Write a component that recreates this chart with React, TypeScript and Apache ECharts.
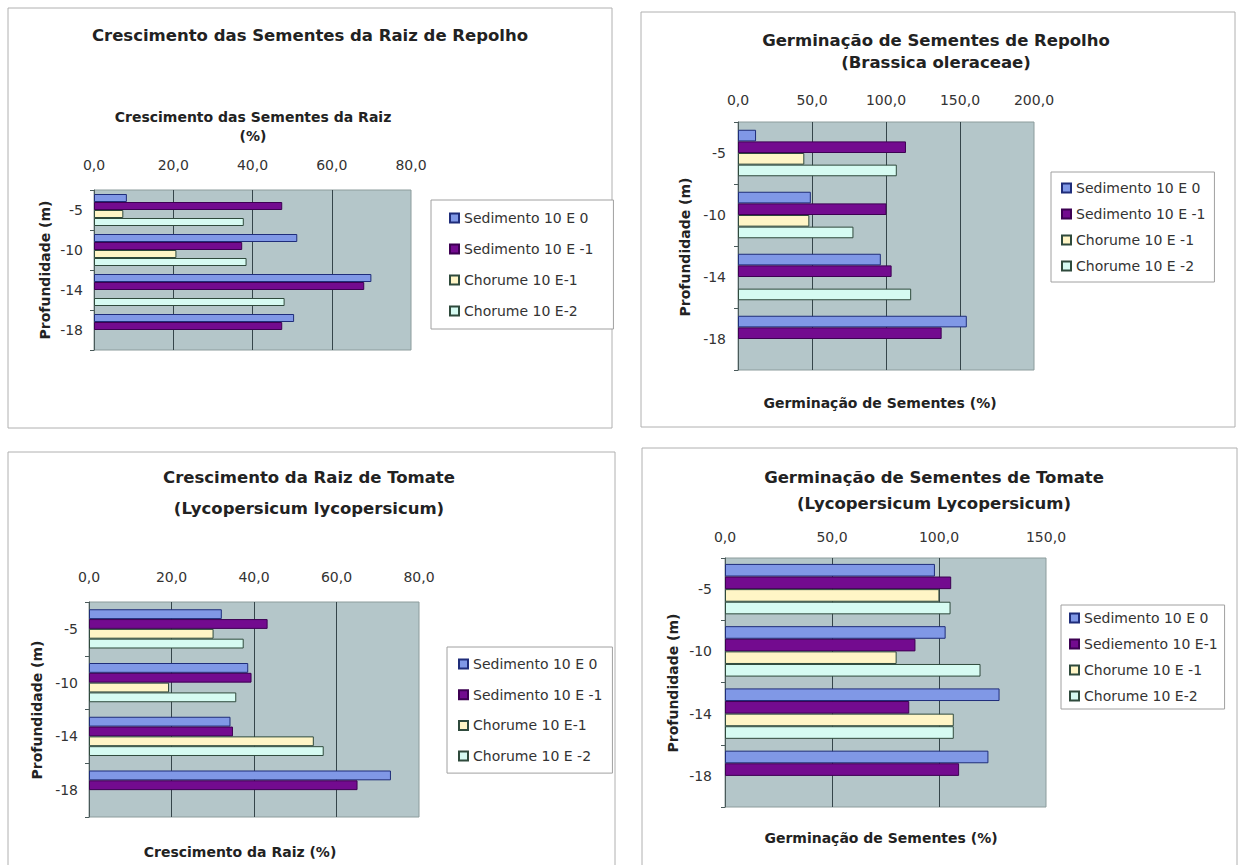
import React, { useEffect, useRef } from 'react';
import * as echarts from 'echarts';

// ---- data ----
const depths = ['-5', '-10', '-14', '-18'];

// Panel 1: Crescimento das Sementes da Raiz de Repolho
const p1Names = ['Sedimento 10 E 0', 'Sedimento 10 E -1', 'Chorume 10 E-1', 'Chorume 10 E-2'];
const p1Sed0 = [8.3, 51.3, 70.0, 50.5];
const p1Sed1 = [47.5, 37.4, 68.2, 47.5];
const p1Chor1 = [7.4, 20.8, null, null];
const p1Chor2 = [37.8, 38.5, 48.1, null];

// Panel 2: Germinação de Sementes de Repolho
const p2Names = ['Sedimento 10 E 0', 'Sedimento 10 E -1', 'Chorume 10 E -1', 'Chorume 10 E -2'];
const p2Sed0 = [12.2, 49.2, 96.5, 154.6];
const p2Sed1 = [113.5, 100.3, 103.8, 137.6];
const p2Chor1 = [44.8, 48.2, null, null];
const p2Chor2 = [107.3, 78.0, 117.0, null];

// Panel 3: Crescimento da Raiz de Tomate
const p3Names = ['Sedimento 10 E 0', 'Sedimento 10 E -1', 'Chorume 10 E-1', 'Chorume 10 E -2'];
const p3Sed0 = [32.2, 38.6, 34.3, 73.2];
const p3Sed1 = [43.3, 39.4, 34.9, 65.1];
const p3Chor1 = [30.2, 19.4, 54.5, null];
const p3Chor2 = [37.5, 35.7, 56.9, null];

// Panel 4: Germinação de Sementes de Tomate
const p4Names = ['Sedimento 10 E 0', 'Sediemento 10 E-1', 'Chorume 10 E -1', 'Chorume 10 E-2'];
const p4Sed0 = [98.1, 103.1, 128.3, 123.1];
const p4Sed1 = [105.7, 89.0, 86.1, 109.4];
const p4Chor1 = [100.2, 80.2, 106.9, null];
const p4Chor2 = [105.4, 119.4, 106.9, null];

// x-axis ranges
const p1Axis = { max: 80, interval: 20 };
const p2Axis = { max: 200, interval: 50 };
const p3Axis = { max: 80, interval: 20 };
const p4Axis = { max: 150, interval: 50 };

const yName = 'Profundidade (m)';

// ---- styles ----
const FONT = '"DejaVu Sans", "Liberation Sans", Arial, sans-serif';
const seriesStyles = [
  { color: '#8098e6', borderColor: '#1f2d7a' },
  { color: '#730b8f', borderColor: '#3d0052' },
  { color: '#fff5c6', borderColor: '#2f4a3c' },
  { color: '#d6fbf2', borderColor: '#2f4a3c' },
];

const panels = [
  {
    names: p1Names,
    values: [p1Sed0, p1Sed1, p1Chor1, p1Chor2],
    axis: p1Axis,
    border: [8, 8, 604, 420],
    grid: { left: 94, top: 190, width: 317, height: 160 },
    gap: '20%',
    labelMargin: 25,
    yLabelMargin: 11,
    titles: [{ text: 'Crescimento das Sementes da Raiz de Repolho', x: 310, y: 35 }],
    axisNames: [
      { text: 'Crescimento das Sementes da Raiz', x: 253, y: 117 },
      { text: '(%)', x: 253, y: 136 },
    ],
    yNamePos: { x: 45, y: 270 },
    legend: { left: 431, top: 200, padding: [10, 20, 10, 18], itemGap: 15 },
  },
  {
    names: p2Names,
    values: [p2Sed0, p2Sed1, p2Chor1, p2Chor2],
    axis: p2Axis,
    border: [641, 12, 594, 415],
    grid: { left: 738, top: 122, width: 296, height: 248 },
    gap: '25%',
    labelMargin: 22,
    yLabelMargin: 12,
    titles: [
      { text: 'Germinação de Sementes de Repolho', x: 936, y: 40 },
      { text: '(Brassica oleraceae)', x: 936, y: 62 },
    ],
    axisNames: [{ text: 'Germinação de Sementes (%)', x: 880, y: 403 }],
    yNamePos: { x: 685, y: 247 },
    legend: { left: 1051, top: 172, padding: [8, 9, 8, 10], itemGap: 10 },
  },
  {
    names: p3Names,
    values: [p3Sed0, p3Sed1, p3Chor1, p3Chor2],
    axis: p3Axis,
    border: [8, 452, 607, 430],
    grid: { left: 89, top: 602, width: 330, height: 215 },
    gap: '27%',
    labelMargin: 25,
    yLabelMargin: 11,
    titles: [
      { text: 'Crescimento da Raiz de Tomate', x: 309, y: 477 },
      { text: '(Lycopersicum lycopersicum)', x: 309, y: 508 },
    ],
    axisNames: [{ text: 'Crescimento da Raiz (%)', x: 240, y: 852 }],
    yNamePos: { x: 37, y: 710 },
    legend: { left: 447, top: 647, padding: [9, 10, 9, 11], itemGap: 14.7 },
  },
  {
    names: p4Names,
    values: [p4Sed0, p4Sed1, p4Chor1, p4Chor2],
    axis: p4Axis,
    border: [642, 448, 595, 430],
    grid: { left: 725, top: 558, width: 321, height: 249 },
    gap: '19%',
    labelMargin: 21,
    yLabelMargin: 13,
    titles: [
      { text: 'Germinação de Sementes de Tomate', x: 934, y: 477 },
      { text: '(Lycopersicum Lycopersicum)', x: 934, y: 503 },
    ],
    axisNames: [{ text: 'Germinação de Sementes (%)', x: 881, y: 838 }],
    yNamePos: { x: 673, y: 683 },
    legend: { left: 1061, top: 605, padding: [5, 7, 5, 8], itemGap: 10 },
  },
];

const fmt = (v: number) => v.toFixed(1).replace('.', ',');

function textEl(text: string, x: number, y: number, font: string, rotation = 0) {
  return {
    type: 'text',
    x,
    y,
    rotation,
    z: 10,
    style: {
      text,
      font,
      fill: '#222',
      textAlign: 'center',
      textVerticalAlign: 'middle',
    },
  };
}

function buildOption() {
  const grid: any[] = [];
  const xAxis: any[] = [];
  const yAxis: any[] = [];
  const series: any[] = [];
  const legend: any[] = [];
  const graphic: any[] = [];

  panels.forEach((p, i) => {
    graphic.push({
      type: 'rect',
      shape: { x: p.border[0], y: p.border[1], width: p.border[2], height: p.border[3] },
      style: { fill: '#fff', stroke: '#b0b0b0', lineWidth: 1 },
      z: -10,
      silent: true,
    });
    p.titles.forEach((t) => graphic.push(textEl(t.text, t.x, t.y, `bold 16.5px ${FONT}`)));
    p.axisNames.forEach((t) => graphic.push(textEl(t.text, t.x, t.y, `bold 14px ${FONT}`)));
    graphic.push(textEl(yName, p.yNamePos.x, p.yNamePos.y, `bold 14px ${FONT}`, Math.PI / 2));

    grid.push({
      ...p.grid,
      show: true,
      backgroundColor: '#b4c6c9',
      borderColor: '#8c9c9c',
      borderWidth: 1,
      containLabel: false,
      outerBoundsMode: 'none',
    });

    xAxis.push({
      type: 'value',
      gridIndex: i,
      position: 'top',
      min: 0,
      max: p.axis.max,
      interval: p.axis.interval,
      axisLine: { show: false },
      axisTick: { show: false },
      axisLabel: {
        formatter: fmt,
        margin: p.labelMargin,
        verticalAlign: 'middle',
        color: '#333',
        fontSize: 14,
        fontFamily: FONT,
      },
      splitLine: { show: true, showMaxLine: false, lineStyle: { color: '#35454a', width: 1 } },
    });

    yAxis.push({
      type: 'category',
      gridIndex: i,
      inverse: true,
      data: depths,
      axisLine: { show: true, lineStyle: { color: '#4a5a5a', width: 1 } },
      axisTick: { show: true, length: 4, lineStyle: { color: '#4a5a5a' } },
      axisLabel: {
        margin: p.yLabelMargin,
        color: '#333',
        fontSize: 14,
        fontFamily: FONT,
      },
    });

    p.values.forEach((vals, k) => {
      series.push({
        type: 'bar',
        name: p.names[k],
        xAxisIndex: i,
        yAxisIndex: i,
        data: vals,
        barGap: '0%',
        barCategoryGap: p.gap,
        itemStyle: {
          color: seriesStyles[k].color,
          borderColor: seriesStyles[k].borderColor,
          borderWidth: 1,
        },
      });
    });

    legend.push({
      orient: 'vertical',
      left: p.legend.left,
      top: p.legend.top,
      padding: p.legend.padding,
      itemGap: p.legend.itemGap,
      itemWidth: 9,
      itemHeight: 9,
      icon: 'rect',
      backgroundColor: '#fff',
      borderColor: '#a0a0a0',
      borderWidth: 1,
      selectedMode: false,
      data: p.names,
      textStyle: { color: '#333', fontSize: 14, fontFamily: FONT, lineHeight: 16, padding: [0, 0, 0, 0] },
    });
  });

  return {
    animation: false,
    backgroundColor: '#ffffff',
    textStyle: { fontFamily: FONT },
    grid,
    xAxis,
    yAxis,
    series,
    legend,
    graphic,
  };
}

export default function App() {
  const ref = useRef<HTMLDivElement>(null);
  useEffect(() => {
    if (!ref.current) return;
    const chart = echarts.init(ref.current, undefined, { renderer: 'svg' });
    chart.setOption(buildOption() as any);
    return () => chart.dispose();
  }, []);
  return (
    <div
      ref={ref}
      style={{ position: 'fixed', left: 0, top: 0, width: 1240, height: 865, background: '#fff' }}
    />
  );
}
